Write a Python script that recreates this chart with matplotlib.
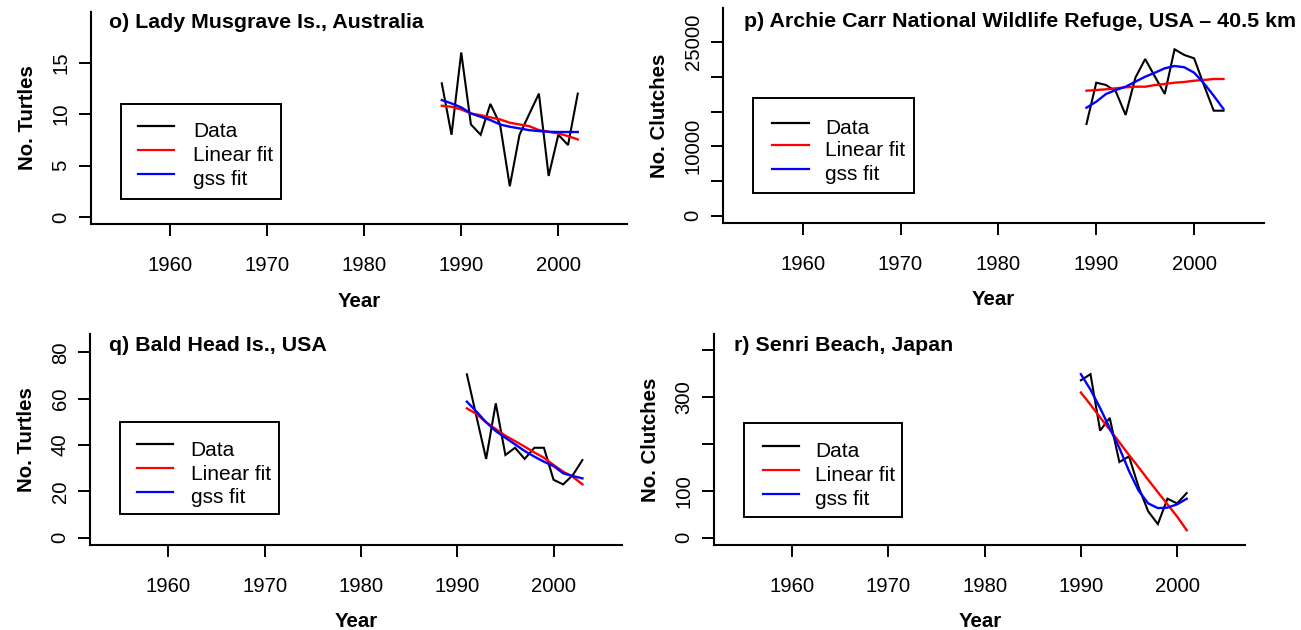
import matplotlib
matplotlib.use("Agg")
import matplotlib.pyplot as plt
from matplotlib.lines import Line2D
from matplotlib.patches import Rectangle
from matplotlib.transforms import ScaledTranslation

plt.rcParams['font.family'] = ['Liberation Sans', 'DejaVu Sans']

# ---------------- data ----------------
year_ticks = [1960, 1970, 1980, 1990, 2000]

o_years = [1988, 1989, 1990, 1991, 1992, 1993, 1994, 1995, 1996, 1997, 1998, 1999, 2000, 2001, 2002]
o_data = [13, 8, 16, 9, 8, 11, 9, 3, 8, 10, 12, 4, 8, 7, 12]
o_lin = [10.82, 10.72, 10.46, 10.07, 9.90, 9.69, 9.49, 9.17, 9.00, 8.84, 8.45, 8.29, 8.13, 7.87, 7.55]
o_gss = [11.37, 11.05, 10.66, 10.07, 9.75, 9.43, 9.00, 8.78, 8.62, 8.45, 8.36, 8.29, 8.27, 8.27, 8.27]
o_yticks = [0, 5, 10, 15]
o_ylabels = ['0', '5', '10', '15']

p_years = [1989, 1990, 1991, 1992, 1993, 1994, 1995, 1996, 1997, 1998, 1999, 2000, 2001, 2002, 2003]
p_data = [13220, 19180, 18840, 17900, 14520, 19900, 22590, 20040, 17550, 23990, 23170, 22690, 18840, 15140, 15140]
p_lin = [18020, 18120, 18220, 18370, 18510, 18600, 18600, 18840, 18990, 19180, 19280, 19460, 19570, 19710, 19710]
p_gss = [15570, 16440, 17550, 18120, 18600, 19320, 20040, 20620, 21250, 21580, 21400, 20620, 19090, 17300, 15380]
p_yticks = [0, 5000, 10000, 15000, 20000, 25000]
p_ylabels = ['0', '', '10000', '', '', '25000']

q_years = [1991, 1992, 1993, 1994, 1995, 1996, 1997, 1998, 1999, 2000, 2001, 2002, 2003]
q_data = [70.5, 52.2, 34.0, 58.0, 35.7, 38.8, 34.0, 38.8, 38.8, 25.0, 23.0, 27.0, 33.5]
q_lin = [55.8, 53.4, 49.8, 46.9, 44.0, 41.7, 39.3, 36.8, 34.5, 31.4, 28.5, 26.3, 23.0]
q_gss = [58.7, 54.4, 49.8, 46.0, 43.1, 40.3, 37.4, 35.0, 32.8, 30.9, 27.8, 26.6, 25.6]
q_yticks = [0, 20, 40, 60, 80]
q_ylabels = ['0', '20', '40', '60', '80']

r_years = [1990, 1991, 1992, 1993, 1994, 1995, 1996, 1997, 1998, 1999, 2000, 2001]
r_data = [335, 348, 228, 255, 161, 173, 108, 56, 29, 83, 73, 95]
r_lin = [309, 283, 256, 230, 203, 176, 150, 123, 97, 71, 45, 16]
r_gss = [348, 315, 276, 233, 191, 142, 100, 73, 63, 64, 71, 83]
r_yticks = [0, 100, 200, 300, 400]
r_ylabels = ['0', '100', '', '300', '']

titles = ["o) Lady Musgrave Is., Australia",
          "p) Archie Carr National Wildlife Refuge, USA \u2013 40.5 km",
          "q) Bald Head Is., USA",
          "r) Senri Beach, Japan"]
ylabels = ["No. Turtles", "No. Clutches", "No. Turtles", "No. Clutches"]
legend_labels = ["Data", "Linear fit", "gss fit"]
series_colors = ["black", "red", "blue"]

# ---------------- layout (pixels) ----------------
W, H = 1301, 630
fig = plt.figure(figsize=(W / 100, H / 100), dpi=100)

panels = [
    dict(box=(91.2, 627.3, 11.7, 224.3), ylim=(-0.7, 19.96), years=o_years,
         series=(o_data, o_lin, o_gss), yt=o_yticks, yl=o_ylabels,
         title_xy=(109, 28.3),
         leg=dict(box=(121, 104, 280.7, 199), lx=(137.6, 174), rows=(126, 150, 174), tx=192.8)),
    dict(box=(723.4, 1263.6, 8.3, 222.7), ylim=(-1009, 29902), years=p_years,
         series=(p_data, p_lin, p_gss), yt=p_yticks, yl=p_ylabels,
         title_xy=(743.5, 26.7),
         leg=dict(box=(752.8, 98, 914.1, 193.3), lx=(772.3, 808.8), rows=(122.7, 145, 169), tx=825)),
    dict(box=(90.4, 621.9, 334, 545), ylim=(-3.15, 87.9), years=q_years,
         series=(q_data, q_lin, q_gss), yt=q_yticks, yl=q_ylabels,
         title_xy=(109, 351),
         leg=dict(box=(120.2, 421.7, 278.6, 514.3), lx=(136.8, 172.9), rows=(444.3, 468.3, 491.7), tx=190.7)),
    dict(box=(714.3, 1245.4, 334, 545), ylim=(-15.5, 433.5), years=r_years,
         series=(r_data, r_lin, r_gss), yt=r_yticks, yl=r_ylabels,
         title_xy=(734, 351),
         leg=dict(box=(744.2, 423.3, 901.9, 517.3), lx=(762.9, 798.5), rows=(446, 469.7, 494), tx=815.1)),
]


def fx(x):
    return x / W


def fy(y):
    return 1 - y / H


for i, P in enumerate(panels):
    l, r, t, b = P['box']
    ax = fig.add_axes([fx(l), fy(b), (r - l) / W, (b - t) / H])
    for s, c, lw in zip(P['series'], series_colors, (1.5, 1.7, 1.7)):
        ax.plot(P['years'], s, color=c, lw=lw, solid_joinstyle='miter')
    ax.set_xlim(1951.9, 2007.1)
    ax.set_ylim(*P['ylim'])
    for sp in ('top', 'right'):
        ax.spines[sp].set_visible(False)
    for sp in ('left', 'bottom'):
        ax.spines[sp].set_linewidth(1.5)
        ax.spines[sp].set_capstyle('projecting')
    ax.set_xticks(year_ticks)
    ax.set_xticklabels([str(y) for y in year_ticks])
    ax.set_yticks(P['yt'])
    ax.set_yticklabels(P['yl'])
    ax.tick_params(direction='out', length=8.9, width=1.4, labelsize=14.6, color='black')
    ax.tick_params(axis='x', pad=14.0)
    ax.tick_params(axis='y', pad=6.0)
    for lab in ax.get_yticklabels():
        lab.set_rotation(90)
        lab.set_va('center')
        lab.set_ha('right')
    # x label
    ax.text(0.5, 0, "Year", transform=ax.transAxes + ScaledTranslation(0, -82.4 / 100, fig.dpi_scale_trans),
            ha='center', va='baseline', fontsize=14.7, fontweight='bold')
    # y label
    ax.text(0, 0.5, ylabels[i], transform=ax.transAxes + ScaledTranslation(-63.8 / 100, 0, fig.dpi_scale_trans),
            ha='center', va='center', rotation=90, fontsize=14.7, fontweight='bold')
    # title inside
    tx, ty = P['title_xy']
    fig.text(fx(tx), fy(ty), titles[i], ha='left', va='baseline', fontsize=15.4, fontweight='bold')
    # legend
    L = P['leg']
    x0, y0, x1, y1 = L['box']
    fig.add_artist(Rectangle((fx(x0), fy(y1)), (x1 - x0) / W, (y1 - y0) / H, transform=fig.transFigure,
                             fill=True, facecolor='white', edgecolor='black', lw=1.4))
    for lab, c, ry in zip(legend_labels, series_colors, L['rows']):
        fig.add_artist(Line2D([fx(L['lx'][0]), fx(L['lx'][1])], [fy(ry), fy(ry)], transform=fig.transFigure,
                              color=c, lw=1.6))
        fig.text(fx(L['tx']), fy(ry + 11.3), lab, ha='left', va='baseline', fontsize=15)

fig.savefig("out.png", dpi=100)
